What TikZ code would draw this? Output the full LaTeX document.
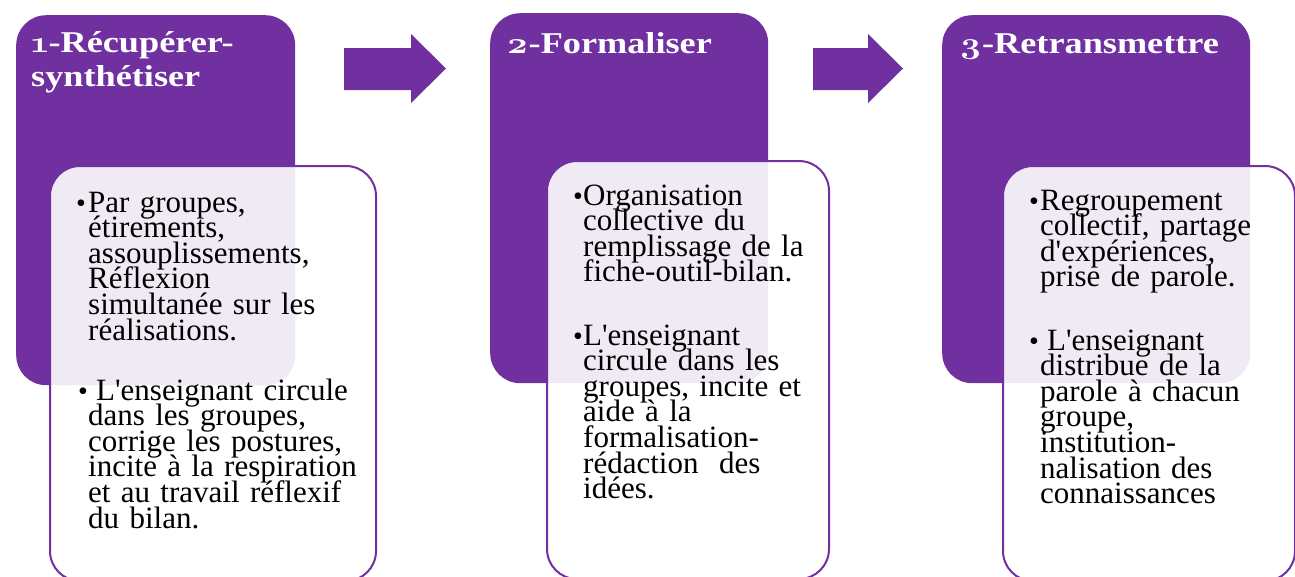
\documentclass[tikz,border=0pt]{standalone}
\usepackage{fontspec}
\newfontfamily\bodyfont{Liberation Serif}[Ligatures=TeXOff]
\newfontfamily\headfont{Liberation Serif}[FakeStretch=1.2, Ligatures=TeXOff]
\newfontfamily\headnum{Latin Modern Roman}[FakeStretch=1.2, Numbers=OldStyle]
\definecolor{phasepurple}{HTML}{7030A0}

\tikzset{
  phasebox/.style={fill=phasepurple, rounded corners=30pt, inner sep=0pt,
    anchor=north west},
  detailbox/.style={draw=phasepurple, line width=2pt, fill=white,
    fill opacity=0.9, rounded corners=30pt, inner sep=0pt, anchor=north west},
  phasetitle/.style={text=white, inner sep=0pt, anchor=base west,
    text width=300pt, align=left,
    font=\headfont\bfseries\fontsize{30.2}{34}\selectfont,
    execute at begin node={\baselineskip=34pt\lineskiplimit=-100pt\lineskip=0pt}},
  bodytext/.style={text=black, inner sep=0pt, anchor=base west,
    text width=320pt, align=left,
    font=\bodyfont\fontsize{31}{25.6}\selectfont,
    execute at begin node={\baselineskip=25.6pt\lineskiplimit=-100pt\lineskip=0pt}},
  bulletmark/.style={text=black, inner sep=0pt, anchor=base west,
    font=\bodyfont\fontsize{28}{25.6}\selectfont},
  blockarrow/.style={fill=phasepurple},
}

\begin{document}
\begin{tikzpicture}[x=1pt, y=-1pt]
\useasboundingbox (0,0) rectangle (1295,576);

% purple phase panels
\node[phasebox, minimum width=279pt, minimum height=370pt] (p1) at (16,15) {};
\node[phasebox, minimum width=278pt, minimum height=370pt] (p2) at (490,13) {};
\node[phasebox, minimum width=308pt, minimum height=368pt] (p3) at (942,15) {};

% phase titles
\node[phasetitle] (h1) at (31,52) {{\headnum 1}-Récupérer-\\synthétiser};
\node[phasetitle] (h2) at (506,53) {{\headnum 2}-Formaliser};
\node[phasetitle] (h3) at (959,53) {{\headnum 3}-Retransmettre};

% block arrows between the phases
\fill[blockarrow] (344,48) -- (411,48) -- (411,34) -- (446,68.5)
  -- (411,103) -- (411,90) -- (344,90) -- cycle;
\fill[blockarrow] (813,48) -- (868,48) -- (868,34) -- (903,68.5)
  -- (868,103) -- (868,90) -- (813,90) -- cycle;

% translucent detail cards
\node[detailbox, minimum width=326pt, minimum height=415pt] (d1) at (49,165) {};
\node[detailbox, minimum width=282pt, minimum height=418pt] (d2) at (546,160) {};
\node[detailbox, minimum width=292pt, minimum height=415pt] (d3) at (1002,165) {};

% card 1
\node[bulletmark] (b1a) at (76,212) {•};
\node[bodytext] (t1a) at (88,212) {Par groupes,\\ étirements,\\ assouplissements,\\
  Réflexion\\ simultanée sur les\\ réalisations.};
\node[bulletmark] (b1b) at (78,400) {•};
\node[bodytext] (t1b) at (88,400) {\hspace*{8pt}L'enseignant circule\\ dans les groupes,\\
  corrige les postures,\\ incite à la respiration\\ et au travail réflexif\\ du bilan.};

% card 2
\node[bulletmark] (b2a) at (573,205) {•};
\node[bodytext] (t2a) at (583,205) {Organisation\\ collective du\\ remplissage de la\\
  fiche-outil-bilan.};
\node[bulletmark] (b2b) at (573,345) {•};
\node[bodytext] (t2b) at (583,345) {L'enseignant\\ circule dans les\\ groupes, incite et\\
  aide à la\\ formalisation-\\ rédaction\ \ des\\ idées.};

% card 3
\node[bulletmark] (b3a) at (1029,210) {•};
\node[bodytext] (t3a) at (1040,210) {Regroupement\\ collectif, partage\\ d'expériences,\\
  prise de parole.};
\node[bulletmark] (b3b) at (1029,350) {•};
\node[bodytext] (t3b) at (1040,350) {\hspace*{7pt}L'enseignant\\ distribue de la\\
  parole à chacun\\ groupe,\\ institution-\\ nalisation des\\ connaissances};
\end{tikzpicture}
\end{document}
